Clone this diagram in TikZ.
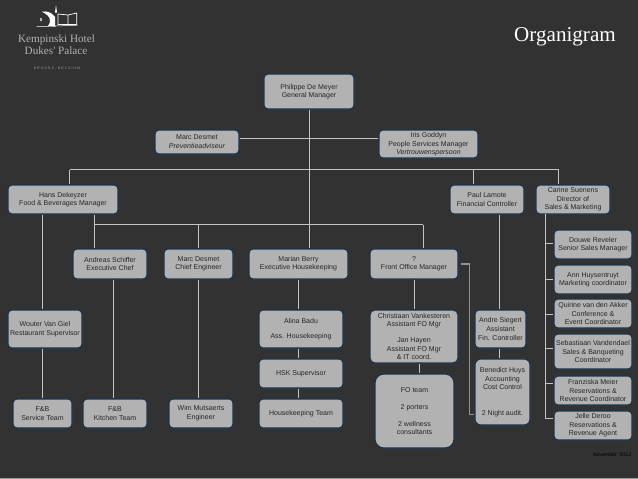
\documentclass[tikz,border=0pt]{standalone}
\usepackage{fontspec}
\setmainfont{Liberation Sans}
\newfontfamily\serifname{Liberation Serif}
\usepackage{tikz}
\usetikzlibrary{positioning, calc}
\definecolor{slidebg}{HTML}{333232}
\definecolor{boxfill}{HTML}{B2B2B2}
\definecolor{boxedge}{HTML}{1B3350}
\definecolor{linkgrey}{HTML}{C4C4C4}
\definecolor{inkgrey}{HTML}{262626}
\tikzset{
    person/.style={draw=boxedge, fill=boxfill, line width=1.1pt, rounded corners=4pt, inner sep=0pt, align=center, text=inkgrey, font=\fontsize{7}{8.3}\selectfont},
    link/.style={draw=linkgrey, line width=0.7pt},
    backlink/.style={draw=gray!85, line width=1.1pt},
    hotelname/.style={text=gray!60!white, font=\serifname\fontsize{11.2}{12}\selectfont, inner sep=0pt},
}

\begin{document}
\begin{tikzpicture}[x=1pt, y=-1pt]
    % Slide background
    \fill[slidebg] (0,0) rectangle (638,479);
    \fill[gray!80] (0,478) rectangle (638,479);
    \useasboundingbox (0,0) rectangle (638,479);

    % Logo
    \fill[white] (41.7,11.7) .. controls (48,10.5) and (52,13) .. (55,17) -- (55.3,26.7) -- (48,26) .. controls (51,23) and (52,16) .. (41.7,11.7) -- cycle;
    \fill[white] (55,12.5) -- (56,5) -- (57,12.5) -- cycle;
    \draw[white, line width=0.7pt] (58,14) -- (68,15) -- (76.7,13) -- (76.7,24.5) -- (58,24.5) -- cycle (68,15) -- (68,24.5);
    \draw[white, line width=0.5pt] (36.7,26.7) -- (77.5,25.2) (40.3,18) -- (40.3,21) (41.6,18) -- (41.6,21);
    \node[hotelname] (hotel) at (56.5,40) {Kempinski Hotel};
    \node[hotelname] (palace) at (56,51) {Dukes' Palace};
    \node[text=gray!80, font=\fontsize{3.6}{4}\selectfont, inner sep=0pt] (town) at (57,68) {B R U G E S ,\ \ B E L G I U M};

    % Title
    \node[text=white, font=\serifname\fontsize{21.1}{24}\selectfont, inner sep=0pt] (title) at (565,37) {Organigram};
    \node[text=black, font=\fontsize{5.2}{6}\selectfont, inner sep=0pt] (stamp) at (612,455) {November\ \ 2012};

    % General manager and advisers
    \node[person, minimum width=90pt, minimum height=35pt] (philippe) at (309,91.5) {Philippe De Meyer\\General Manager};
    \node[person, minimum width=84pt, minimum height=24pt] (preventie) at (197,142) {Marc Desmet\\[0.6pt]\textit{Preventieadviseur}};
    \node[person, minimum width=99pt, minimum height=28pt] (iris) at (428.5,144) {Iris Goddyn\\[0.6pt]People Services Manager\\\textit{Vertrouwenspersoon}};

    % Managers under the upper bus
    \node[person, minimum width=110pt, minimum height=29pt] (hans) at (63,199.5) {Hans Dekeyzer\\Food \& Beverages Manager};
    \node[person, minimum width=74pt, minimum height=29pt] (paul) at (487,199.5) {Paul Lamote\\Financial Controller};
    \node[person, minimum width=74pt, minimum height=29pt] (carine) at (573,199.5) {Carine Suenens\\Director of\\[0.6pt]Sales \& Marketing};

    % Managers under the lower bus
    \node[person, minimum width=74pt, minimum height=30pt] (andreas) at (110,264) {Andreas Schiffer\\Executive Chef};
    \node[person, minimum width=69pt, minimum height=30pt] (chief) at (198.5,264) {Marc Desmet\\Chief Engineer};
    \node[person, minimum width=99pt, minimum height=30pt] (marian) at (298.5,264) {Marian Berry\\Executive Housekeeping};
    \node[person, minimum width=88pt, minimum height=30pt] (frontoffice) at (414,264) {?\\Front Office Manager};

    % Food and beverages
    \node[person, minimum width=74pt, minimum height=38pt] (wouter) at (45,329) {Wouter Van Giel\\[0.8pt]Restaurant Supervisor};
    \node[person, minimum width=59pt, minimum height=29pt] (service) at (42.5,413.5) {F\&B\\[0.6pt]Service Team};
    \node[person, minimum width=64pt, minimum height=29pt] (kitchen) at (115,413.5) {F\&B\\[0.6pt]Kitchen Team};
    \node[person, minimum width=64pt, minimum height=29pt] (wim) at (201,413.5) {Wim Mutsaerts\\[0.6pt]Engineer};

    % Housekeeping
    \node[person, minimum width=84pt, minimum height=38pt] (alina) at (301,329) {Alina Badu\\[7pt]Ass. Housekeeping};
    \node[person, minimum width=84pt, minimum height=29pt] (supervisor) at (301,373.5) {HSK Supervisor};
    \node[person, minimum width=84pt, minimum height=29pt] (housekeeping) at (301,413.5) {Housekeeping Team};

    % Front office
    \node[person, rounded corners=5pt, minimum width=88pt, minimum height=53pt] (christiaan) at (414,336.5) {Christiaan Vankesteren\\[0.6pt]Assistant FO Mgr\\[7.5pt]Jan Hayen\\Assistant FO Mgr\\[0.6pt]\& IT coord.};
    \node[person, rounded corners=9pt, minimum width=79pt, minimum height=74pt] (foteam) at (414.5,411) {FO team\\[8.5pt]2 porters\\[8.5pt]2 wellness\\consultants};

    % Finance
    \node[person, minimum width=51pt, minimum height=38pt] (andre) at (500.5,329) {Andre Siegert\\[0.6pt]Assistant\\[0.2pt]Fin. Controller};
    \node[person, rounded corners=6pt, minimum width=55pt, minimum height=66pt] (benedict) at (502.5,392) {Benedict Huys\\[0.6pt]Accounting\\Cost Control\\[17pt]2 Night audit.};

    % Sales and marketing
    \node[person, minimum width=78pt, minimum height=29pt] (douwe) at (593,244.5) {Douwe Reveler\\Senior Sales Manager};
    \node[person, minimum width=78pt, minimum height=29pt] (ann) at (593,279.5) {Ann Huysentruyt\\Marketing coordinator};
    \node[person, minimum width=78pt, minimum height=29pt] (quirine) at (593,313.5) {Quirine van den Akker\\Conference \&\\Event Coordinator};
    \node[person, minimum width=78pt, minimum height=35pt] (sebastiaan) at (593,351.5) {Sebastiaan Vandendael\\[0.6pt]Sales \& Banqueting\\Coordinator};
    \node[person, minimum width=78pt, minimum height=29pt] (franziska) at (593,390.5) {Franziska Meier\\[0.6pt]Reservations \&\\Revenue Coordinator};
    \node[person, minimum width=78pt, minimum height=29pt] (jelle) at (593,425.5) {Jelle Deroo\\Reservations \&\\[0.6pt]Revenue Agent};

    % Bus rails
    \coordinate (upperleft) at (69.5,169.5);
    \coordinate (upperright) at (558.7,169.5);
    \coordinate (lowerleft) at (94.5,224.5);
    \coordinate (lowerright) at (423,224.5);
    \coordinate (salesrail) at (545.3,214);
    \coordinate (backrail) at (469.7,264);

    % Connectors
    \draw[link] (philippe.south) -- (philippe.south |- marian.north);
    \draw[link] (preventie.east |- 0,138) -- (iris.west |- 0,138);
    \draw[link] (upperleft) -- (upperright);
    \draw[link] (upperleft) -- (upperleft |- hans.north);
    \draw[link] (upperright) -- (upperright |- carine.north);
    \draw[link] (473.7,169.5) -- (473.7,0 |- paul.north);
    \draw[link] (lowerleft) -- (lowerright);
    \draw[link] (lowerleft |- hans.south) -- (lowerleft |- andreas.north);
    \draw[link] (chief.north |- lowerleft) -- (chief.north);
    \draw[link] (lowerright) -- (lowerright |- frontoffice.north);
    \draw[link] (42.5,0 |- hans.south) -- (42.5,0 |- wouter.north);
    \draw[link] (service.north |- wouter.south) -- (service.north);
    \draw[link] (113.5,0 |- andreas.south) -- (113.5,0 |- kitchen.north);
    \draw[link] (chief.south) -- (chief.south |- wim.north);
    \draw[link] (marian.south) -- (marian.south |- alina.north);
    \draw[link] (marian.south |- alina.south) -- (marian.south |- supervisor.north);
    \draw[link] (marian.south |- supervisor.south) -- (marian.south |- housekeeping.north);
    \draw[link] (frontoffice.south) -- (christiaan.north);
    \draw[link] (419.5,0 |- christiaan.south) -- (419.5,0 |- foteam.north);
    \draw[backlink] (frontoffice.east) ++(2,0) -- (backrail) -- (backrail |- 0,414.7) -- (benedict.west |- 0,414.7);
    \draw[link] (499.5,0 |- paul.south) -- (499.5,0 |- andre.north);
    \draw[link] (499.5,0 |- andre.south) -- (499.5,0 |- benedict.north);
    \draw[link] (salesrail) -- (salesrail |- 0,418) -- (jelle.west |- 0,418);
    \foreach \name/\ypos in {douwe/243, ann/279, quirine/314, sebastiaan/348, franziska/383}
        \draw[link] (salesrail |- 0,\ypos) -- (\name.west |- 0,\ypos);
\end{tikzpicture}
\end{document}
